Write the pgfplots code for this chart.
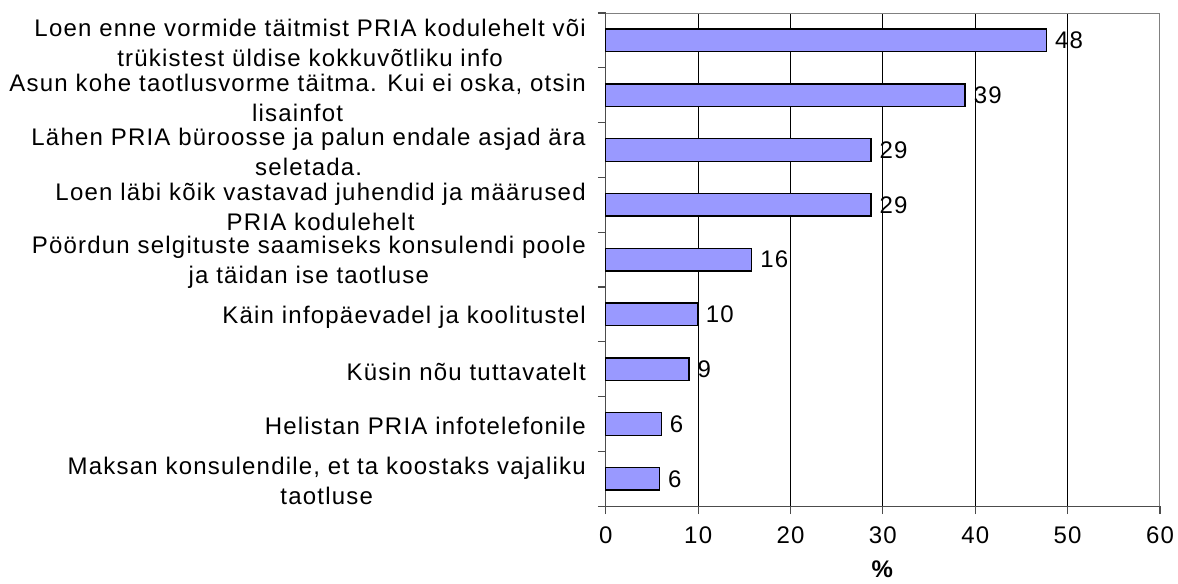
\documentclass[border=0pt]{standalone}
\usepackage{fontspec}
\setmainfont[LetterSpace=5]{Liberation Sans}
\usepackage{pgfplots}
\pgfplotsset{compat=1.18}
\usepackage{pgfplotstable}
\definecolor{barfill}{HTML}{9999FF}

\pgfplotstableread{
y x lab
1 47.7 48
2 38.9 39
3 28.7 29
4 28.7 29
5 15.8 16
6 9.9 10
7 9.0 9
8 6.0 6
9 5.8 6
}\datatable

\begin{document}
\begin{tikzpicture}
\path[use as bounding box] (-302.8pt,-38.5pt) rectangle (286pt,253pt);
\begin{axis}[
  at={(0,0)}, anchor=south west,
  scale only axis, width=277pt, height=246.5pt,
  xbar, bar width=11.35pt,
  xmin=0, xmax=60, ymin=0.5, ymax=9.5, y dir=reverse,
  xtick={0,10,...,60},
  ytick={0.5,1.5,...,9.5}, yticklabels={},
  extra y ticks={1,2,3,4,5,6,7,8,9},
  extra y tick labels={
    {Loen enne vormide täitmist PRIA kodulehelt või\\trükistest üldise kokkuvõtliku info},
    {Asun kohe taotlusvorme täitma. Kui ei oska, otsin\\lisainfot},
    {Lähen PRIA büroosse ja palun endale asjad ära\\seletada.},
    {Loen läbi kõik vastavad juhendid ja määrused\\PRIA kodulehelt},
    {Pöördun selgituste saamiseks konsulendi poole\\ja täidan ise taotluse},
    {Käin infopäevadel ja koolitustel},
    {Küsin nõu tuttavatelt},
    {Helistan PRIA infotelefonile},
    {Maksan konsulendile, et ta koostaks vajaliku\\taotluse}},
  extra y tick style={
    grid=none,
    tick style={draw=none},
    yticklabel style={align=center, font=\fontsize{12}{15}\selectfont, xshift=-2.5pt, yshift=-1.2pt},
  },
  tick align=outside, tick pos=left,
  major tick length=4pt,
  tick style={draw=black!70, line width=0.6pt},
  xmajorgrids, major grid style={black, line width=0.5pt},
  axis x line*=bottom, axis y line*=left,
  axis line style={draw=black!70, line width=0.6pt},
  /pgf/number format/assume math mode=true,
  ticklabel style={font=\fontsize{12}{14}\selectfont},
  xticklabel style={yshift=-2.5pt},
  xlabel={\textbf{\%}},
  xlabel style={font=\fontsize{12}{14}\selectfont, yshift=-2pt},
  nodes near coords={\pgfplotspointmeta},
  point meta=explicit symbolic,
  nodes near coords style={anchor=west, font=\fontsize{12}{14}\selectfont, inner sep=4pt},
  clip=false,
]
\addplot[fill=barfill, draw=black, line width=0.7pt] table[x=x, y=y, meta=lab] {\datatable};
\draw[black!50, line width=0.5pt] (rel axis cs:0,1) -- (rel axis cs:1,1) -- (rel axis cs:1,0);
\end{axis}
\end{tikzpicture}
\end{document}
